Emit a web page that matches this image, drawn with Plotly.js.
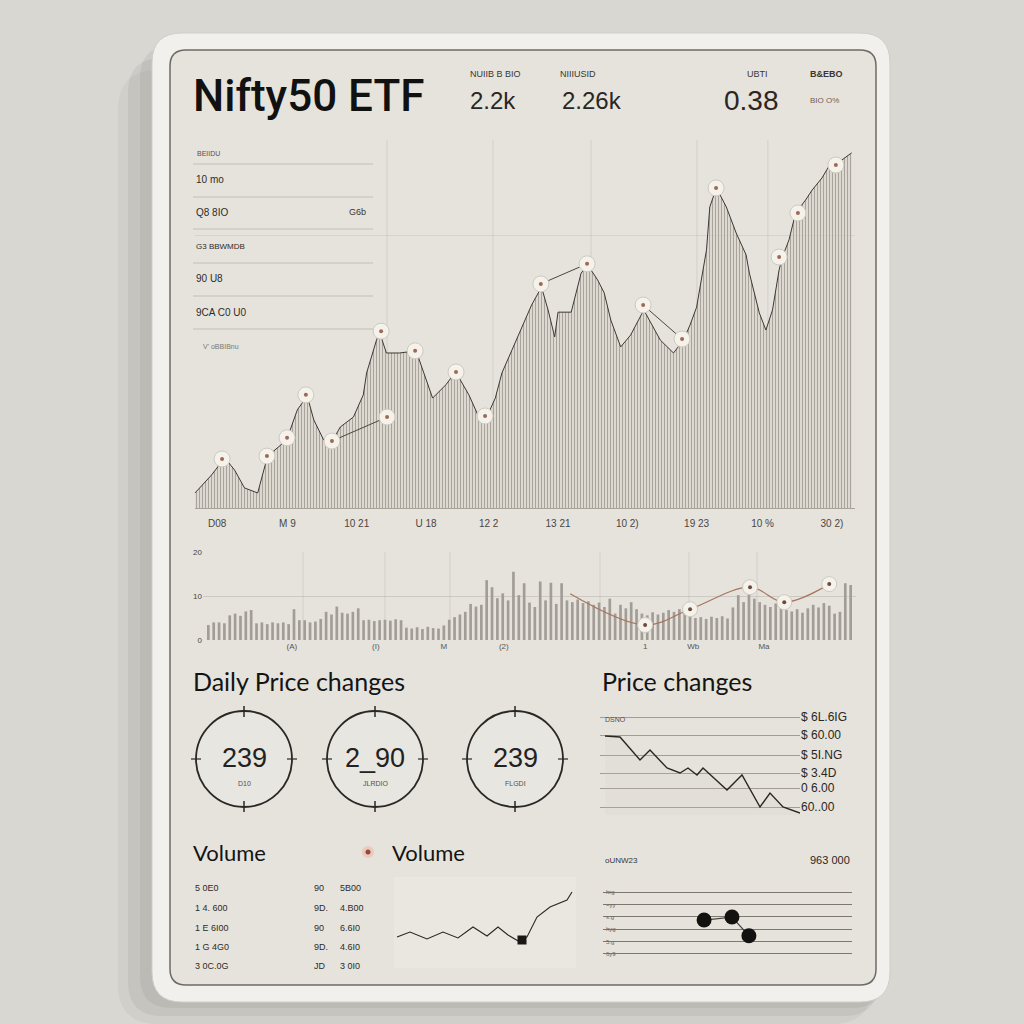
<!DOCTYPE html>
<html>
<head>
<meta charset="utf-8">
<script src="https://cdn.plot.ly/plotly-3.0.1.min.js"></script>
<style>html,body{margin:0;padding:0;background:#d7d6d1;}#chart{width:1024px;height:1024px;}</style>
</head>
<body>
<div id="chart"></div>
<script>
// ---------------- DATA ----------------
// Main price area (day index, value)
const priceDays = [0,5,9,12,15,19,22,26,28,31,34,36,39,41,44,48,51,52,55,56,58,62,67,70,72,76,79,83,86,88,91,93,96,99,102,105,107,109,110,114,117,119,122,124,126,129,132,136,138,141,145,148,150,152,155,156,158,161,164,167,168,171,173,175,177,178,180,182,185,187,190,192,196,199];
const priceValues = [4.2,9.2,14.0,10.6,5.6,4.2,14.5,17.6,19.6,27.4,31.3,24.6,19.0,17.6,22.6,25.4,31.6,37.7,46.9,48.9,43.3,43.3,43.9,35.8,30.7,34.4,38.0,31.6,25.4,24.6,30.7,37.7,44.1,50.6,56.7,61.7,55.3,47.8,54.7,54.7,65.6,67.9,63.7,60.1,52.5,45.0,48.3,55.3,52.0,46.9,43.3,46.9,51.1,56.1,72.1,84.1,89.4,84.1,76.8,70.7,65.6,54.5,49.7,55.3,66.5,70.1,74.9,82.4,86.0,88.8,92.2,95.3,97.2,99.2];
const highlightDays = [8.2,21.8,27.9,33.6,41.5,58.2,56.4,66.7,79.1,87.9,104.8,118.8,135.8,147.6,157.9,177.0,182.7,194.2];
const highlightValues = [13.7,14.5,19.6,31.6,18.7,25.4,49.4,43.9,38.0,25.7,62.6,68.2,56.7,47.2,89.4,70.1,82.4,95.8];
const linkedPairs = [[4,5],[10,11],[12,13]];
const priceTickDays = [6.7,28,49,70,89,110,131,152,172,193];
const priceTickLabels = ['D08','M 9','10 21','U 18','12 2','13 21','10 2)','19 23','10 %','30 2)'];

// Volume bars
const volumeValues = [3.4,4,4,3.8,5.6,6,5.5,6.5,6.8,3.8,4,3.6,4,3.8,4,3.6,7.0,4.5,4.5,4,4.2,4.8,6.4,5.8,7.6,6.2,6,6.4,7.2,4.5,4.6,4.3,4.5,4.6,4.4,4.7,4.5,2.8,2.6,2.9,2.5,3.0,2.7,2.6,3.3,4.6,5.2,5.8,6.4,8.2,7.6,8.0,13.6,12.0,9.5,10.6,9.0,15.5,10.2,12.9,8.5,7.5,13.3,9.0,13.0,8.2,12.9,9.0,8.6,9.2,8.4,8.8,8.0,8.5,7.5,9.4,6.0,8.0,7.2,8.6,7.0,6.0,5.6,6.3,5.8,6.2,6.8,6.4,7.0,6.2,6.8,5.0,5.2,4.8,5.3,5.0,5.4,4.9,7.4,10.2,8.6,10.8,9.4,8.6,8.0,7.5,8.3,7.4,6.8,6.5,7.0,6.2,7.2,8.0,7.4,8.4,7.8,6.0,6.4,12.9,12.5];
const volumeTrendIdx = [67.6,81.6,90.0,101.2,107.6,116.0];
const volumeTrendValues = [10.5,3.4,7.0,12.0,8.6,12.7];
const volumeTickIdx = [15.6,31.3,44.0,55.2,81.6,90.6,103.8];
const volumeTickLabels = ['(A)','(I)','M','(2)','1','Wb','Ma'];

// Header stats
const statLabels = ['NUIIB B BIO','NIIIUSID','UBTI','B&EBO'];
const statValues = ['2.2k','2.26k','0.38','BIO O%'];

// Daily price change gauges
const gaugeValues = ['239','2_90','239'];
const gaugeLabels = ['D10','JLRDIO','FLGDI'];

// Price changes mini line
const changeX = [2.5,10,20,25,33.5,40,44,48.5,51.5,63.5,71,80,85,91.5,100];
const changeY = [7.9,7.8,5.5,6.5,4.7,4.2,4.7,4.0,4.7,2.5,4.0,0.8,2.2,0.8,0.2];
const changeTickVals = [9.8,8.0,6.0,4.2,2.7,0.8];
const changeTickText = ['$ 6L.6IG','$ 60.00','$ 5I.NG','$ 3.4D','0 6.00','60..00'];

// Volume mini line
const volLineX = [1,7.5,16,24,31.5,39,46,51.5,56.5,62.5,66,71,77.5,86,88.5];
const volLineY = [28,33,26,33,27,38,29,38,30,23,28,48,58,65,73];
const volMarkX = [63.5];
const volMarkY = [25];
const volTableA = ['5 0E0','1 4. 600','1 E 6I00','1 G 4G0','3 0C.0G'];
const volTableB = ['90','9D.','90','9D.','JD'];
const volTableC = ['5B00','4.B00','6.6I0','4.6I0','3 0I0'];

// Bottom right dots
const dotX = [40.6,51.8,58.6];
const dotY = [3.74,3.98,2.47];
const dotTickVals = [0,1,2,3,4,5,6,7];
const dotTickText = ['','6y9','5.g','hyg','s.g','~yy','hrg','9ng'];

// Left table overlay in main chart
const tableRows = ['10 mo','Q8 8IO','G3 BBWMDB','90 U8','9CA C0 U0'];

// ---------------- HELPERS ----------------
const W = 1024;
const X = p => p / W;
const Y = p => 1 - p / W;
const dx = (a, b) => [a / W, b / W];
const dy = (top, bottom) => [1 - bottom / W, 1 - top / W];
function roundRect(x0, y0, x1, y1, r) {
  const P = (x, y) => X(x).toFixed(5) + ',' + Y(y).toFixed(5);
  return 'M' + P(x0 + r, y0) + ' L' + P(x1 - r, y0) + ' Q' + P(x1, y0) + ' ' + P(x1, y0 + r) +
    ' L' + P(x1, y1 - r) + ' Q' + P(x1, y1) + ' ' + P(x1 - r, y1) +
    ' L' + P(x0 + r, y1) + ' Q' + P(x0, y1) + ' ' + P(x0, y1 - r) +
    ' L' + P(x0, y0 + r) + ' Q' + P(x0, y0) + ' ' + P(x0 + r, y0) + ' Z';
}
const annotations = [];
function ann(x, y, text, size, color, opts) {
  opts = opts || {};
  annotations.push({
    xref: 'paper', yref: 'paper', x: X(x), y: Y(y), text: text, showarrow: false,
    xanchor: opts.xanchor || 'left', yanchor: 'middle',
    font: {size: size, color: color, family: opts.family || 'Liberation Sans, Arial, sans-serif', weight: opts.weight || 400}
  });
}
const shapes = [];
function pathShape(d, fill, line, lw) {
  shapes.push({type: 'path', xref: 'paper', yref: 'paper', path: d, fillcolor: fill,
    line: {color: line || 'rgba(0,0,0,0)', width: lw || 0}, layer: 'below'});
}
function lineShape(x0, y0, x1, y1, color, w, layer) {
  shapes.push({type: 'line', xref: 'paper', yref: 'paper', x0: X(x0), y0: Y(y0), x1: X(x1), y1: Y(y1),
    line: {color: color, width: w}, layer: layer || 'below'});
}
function circleShape(cx, cy, r, fill, color, w, layer) {
  shapes.push({type: 'circle', xref: 'paper', yref: 'paper', x0: X(cx - r), y0: Y(cy + r), x1: X(cx + r), y1: Y(cy - r),
    fillcolor: fill, line: {color: color, width: w}, layer: layer || 'above'});
}

// ---------------- CARD ----------------
pathShape(roundRect(118, 70, 872, 1024, 40), 'rgba(60,58,52,0.05)');
pathShape(roundRect(128, 58, 878, 1016, 34), 'rgba(60,58,52,0.07)');
pathShape(roundRect(140, 46, 884, 1008, 32), 'rgba(60,58,52,0.07)');
pathShape(roundRect(152, 33, 890, 1002, 30), '#f1f0ec', '#d0cec8', 1);
pathShape(roundRect(170, 50, 876, 985, 16), '#e5e3dc', '#6f6a63', 1.5);

// ---------------- HEADER TEXT ----------------
ann(191, 96, 'Nifty50 ETF', 44, '#111111', {family: 'Roboto, Liberation Sans, sans-serif', weight: 500});
const statLabelX = [468, 558, 745, 808];
const statValueX = [468, 560, 722, 808];
for (let i = 0; i < statLabels.length; i++) {
  ann(statLabelX[i], 74, statLabels[i], 9, '#3a3632', {weight: i === 3 ? 700 : 400});
}
for (let i = 0; i < 3; i++) {
  ann(statValueX[i], 100, statValues[i], i === 2 ? 28 : 24, '#2a2623');
}
ann(statValueX[3], 100, statValues[3], 8, '#7a5a4e');

// ---------------- MAIN CHART DECOR ----------------
const mainGridX = [58.2, 90.3, 120, 152.1, 173.6];
mainGridX.forEach(d => shapes.push({type: 'line', xref: 'x', yref: 'paper', x0: d, x1: d, y0: Y(508), y1: Y(140),
  line: {color: 'rgba(160,155,148,0.25)', width: 1}, layer: 'below'}));
const tableLineY = [164, 197, 229, 263, 296, 329];
tableLineY.forEach(y => lineShape(193, y, 373, y, 'rgba(170,165,157,0.55)', 1));
ann(195, 153, 'BEIIDU', 7, '#55504a');
const tableRowY = [179, 212, 246, 278, 312];
tableRows.forEach((t, i) => ann(194, tableRowY[i], t, i === 2 ? 8 : 10, '#2f2b28'));
ann(347, 212, 'G6b', 9, '#3a3632');
ann(201, 346, "V' oBBIBnu", 7, '#7d7872');

// ---------------- VOLUME CHART DECOR ----------------
const volGridPx = [303, 385, 450, 600, 689, 757];
volGridPx.forEach(p => lineShape(p, 552, p, 640, 'rgba(160,155,148,0.25)', 1));

// ---------------- GAUGES ----------------
ann(191, 681, 'Daily Price changes', 25, '#141414', {family: 'Lato, sans-serif'});
const gaugeCX = [244, 375, 515];
gaugeCX.forEach((cx, i) => {
  const cy = 759, r = 48;
  circleShape(cx, cy, r, 'rgba(236,234,228,0.5)', '#2a2725', 1.8, 'below');
  lineShape(cx, cy - r - 5, cx, cy - r + 6, '#2a2725', 1.5, 'above');
  lineShape(cx, cy + r - 6, cx, cy + r + 5, '#2a2725', 1.5, 'above');
  lineShape(cx - r - 5, cy, cx - r + 5, cy, '#2a2725', 1.2, 'above');
  lineShape(cx + r - 5, cy, cx + r + 5, cy, '#2a2725', 1.2, 'above');
  ann(cx, 758, gaugeValues[i], 27, '#222', {xanchor: 'center'});
  ann(cx, 783, gaugeLabels[i], 7, '#55504a', {xanchor: 'center'});
});

// ---------------- PRICE CHANGES ----------------
ann(600, 681, 'Price changes', 25, '#141414', {family: 'Lato, sans-serif'});
ann(603, 719, 'DSNO', 7, '#55504a');

// ---------------- VOLUME (bottom) ----------------
ann(191, 852, 'Volume', 22, '#141414', {family: 'Lato, sans-serif'});
circleShape(368, 852, 6, '#ecc9bc', 'rgba(0,0,0,0)', 0);
circleShape(368, 852, 2.5, '#8e4c3c', 'rgba(0,0,0,0)', 0);
ann(390, 852, 'Volume', 22, '#141414', {family: 'Lato, sans-serif'});
const volRowY = [888, 908, 928, 947, 966];
volTableA.forEach((t, i) => ann(193, volRowY[i], t, 9, '#2f2b28'));
volTableB.forEach((t, i) => ann(312, volRowY[i], t, 9, '#2f2b28'));
volTableC.forEach((t, i) => ann(338, volRowY[i], t, 9, '#2f2b28'));
shapes.push({type: 'rect', xref: 'paper', yref: 'paper', x0: X(394), x1: X(576), y0: Y(968), y1: Y(877),
  fillcolor: 'rgba(250,248,243,0.22)', line: {width: 0}, layer: 'below'});

// ---------------- BOTTOM RIGHT ----------------
ann(603, 860, 'oUNW23', 8, '#3a3632');
ann(852, 860, '963 000', 11, '#2a2623', {xanchor: 'right'});

// ---------------- TRACES ----------------
const connX = [], connY = [];
linkedPairs.forEach(p => { connX.push(highlightDays[p[0]], highlightDays[p[1]], null); connY.push(highlightValues[p[0]], highlightValues[p[1]], null); });
const volIdx = volumeValues.map((v, i) => i);

const traces = [
  {type: 'scatter', x: priceDays, y: priceValues, mode: 'lines', fill: 'tozeroy',
   line: {color: '#3d3834', width: 1},
   fillcolor: 'rgba(210,203,194,0.5)',
   fillpattern: {shape: '|', size: 3, solidity: 0.3, fgcolor: '#a29d96', bgcolor: 'rgba(214,207,198,0.5)'},
   xaxis: 'x', yaxis: 'y', hoverinfo: 'skip'},
  {type: 'scatter', x: connX, y: connY, mode: 'lines', line: {color: '#4a4540', width: 1},
   xaxis: 'x', yaxis: 'y', hoverinfo: 'skip'},
  {type: 'scatter', x: highlightDays, y: highlightValues, mode: 'markers',
   marker: {size: 16, color: '#f5f2eb', line: {color: '#cfc9bf', width: 1}}, xaxis: 'x', yaxis: 'y'},
  {type: 'scatter', x: highlightDays, y: highlightValues, mode: 'markers',
   marker: {size: 4, color: '#9c6a55'}, xaxis: 'x', yaxis: 'y'},

  {type: 'bar', x: volIdx, y: volumeValues, width: 0.5, marker: {color: '#a29d96', line: {width: 0}},
   xaxis: 'x2', yaxis: 'y2', hoverinfo: 'skip'},
  {type: 'scatter', x: volumeTrendIdx, y: volumeTrendValues, mode: 'lines', line: {color: '#a77560', width: 1.2, shape: 'spline'},
   xaxis: 'x2', yaxis: 'y2'},
  {type: 'scatter', x: volumeTrendIdx.slice(1), y: volumeTrendValues.slice(1), mode: 'markers',
   marker: {size: 15, color: '#f5f2eb', line: {color: '#cfc9bf', width: 1}}, xaxis: 'x2', yaxis: 'y2'},
  {type: 'scatter', x: volumeTrendIdx.slice(1), y: volumeTrendValues.slice(1), mode: 'markers',
   marker: {size: 4, color: '#6b4a3c'}, xaxis: 'x2', yaxis: 'y2'},

  {type: 'scatter', x: changeX, y: changeY, mode: 'lines', fill: 'tozeroy', fillcolor: 'rgba(205,196,184,0.14)',
   line: {color: '#2b2724', width: 1.4}, xaxis: 'x3', yaxis: 'y3'},

  {type: 'scatter', x: volLineX, y: volLineY, mode: 'lines', line: {color: '#2b2724', width: 1.1},
   xaxis: 'x4', yaxis: 'y4'},
  {type: 'scatter', x: volMarkX, y: volMarkY, mode: 'markers', marker: {size: 9, symbol: 'square', color: '#1a1715'},
   xaxis: 'x4', yaxis: 'y4'},

  {type: 'scatter', x: dotX, y: dotY, mode: 'lines+markers', line: {color: '#4a4540', width: 1.2},
   marker: {size: 15, color: '#141210'}, xaxis: 'x5', yaxis: 'y5'}
];

const baseAxis = {showgrid: false, zeroline: false, showticklabels: false, ticks: '', fixedrange: true, showline: false};
const layout = {
  width: 1024, height: 1024, margin: {l: 0, r: 0, t: 0, b: 0},
  paper_bgcolor: '#d8d7d2', plot_bgcolor: 'rgba(0,0,0,0)', showlegend: false, hovermode: false,
  font: {family: 'Liberation Sans, Arial, sans-serif'},
  shapes: shapes, annotations: annotations,
  xaxis: Object.assign({}, baseAxis, {domain: dx(195, 855), range: [0, 200], anchor: 'y',
    showticklabels: true, tickvals: priceTickDays, ticktext: priceTickLabels, ticklen: 0, ticklabelstandoff: 6,
    tickfont: {size: 10, color: '#4a4642'}, showline: true, linecolor: '#a8a39c', linewidth: 1}),
  yaxis: Object.assign({}, baseAxis, {domain: dy(150, 508), range: [0, 100], anchor: 'x',
    showgrid: true, tickvals: [76], gridcolor: 'rgba(160,155,148,0.22)'}),
  xaxis2: Object.assign({}, baseAxis, {domain: dx(203, 856), range: [-1, 121], anchor: 'y2',
    showticklabels: true, tickvals: volumeTickIdx, ticktext: volumeTickLabels, tickfont: {size: 8, color: '#5a5550'}}),
  yaxis2: Object.assign({}, baseAxis, {domain: dy(552, 640), range: [0, 20], anchor: 'x2',
    showticklabels: true, tickvals: [0, 10, 20], ticktext: ['0', '10', '20'], tickfont: {size: 8, color: '#4a4642'},
    showgrid: true, gridcolor: 'rgba(160,155,148,0.35)'}),
  xaxis3: Object.assign({}, baseAxis, {domain: dx(600, 800), range: [0, 100], anchor: 'y3'}),
  yaxis3: Object.assign({}, baseAxis, {domain: dy(715, 815), range: [0, 10], anchor: 'x3', side: 'right',
    showticklabels: true, tickvals: changeTickVals, ticktext: changeTickText,
    tickfont: {size: 12, color: '#2a2623'}, showgrid: true, gridcolor: '#a39c92', gridwidth: 1}),
  xaxis4: Object.assign({}, baseAxis, {domain: dx(395, 575), range: [0, 90], anchor: 'y4'}),
  yaxis4: Object.assign({}, baseAxis, {domain: dy(880, 965), range: [0, 85], anchor: 'x4'}),
  xaxis5: Object.assign({}, baseAxis, {domain: dx(603, 852), range: [0, 100], anchor: 'y5'}),
  yaxis5: Object.assign({}, baseAxis, {domain: dy(879, 967), range: [-0.05, 7.05], anchor: 'x5',
    showticklabels: true, tickvals: dotTickVals, ticktext: dotTickText, ticklabelposition: 'inside',
    tickfont: {size: 6, color: '#6a655f'}, showgrid: true, gridcolor: '#7d776f', gridwidth: 1})
};

Plotly.newPlot('chart', traces, layout, {staticPlot: true, displayModeBar: false});
</script>
</body>
</html>
